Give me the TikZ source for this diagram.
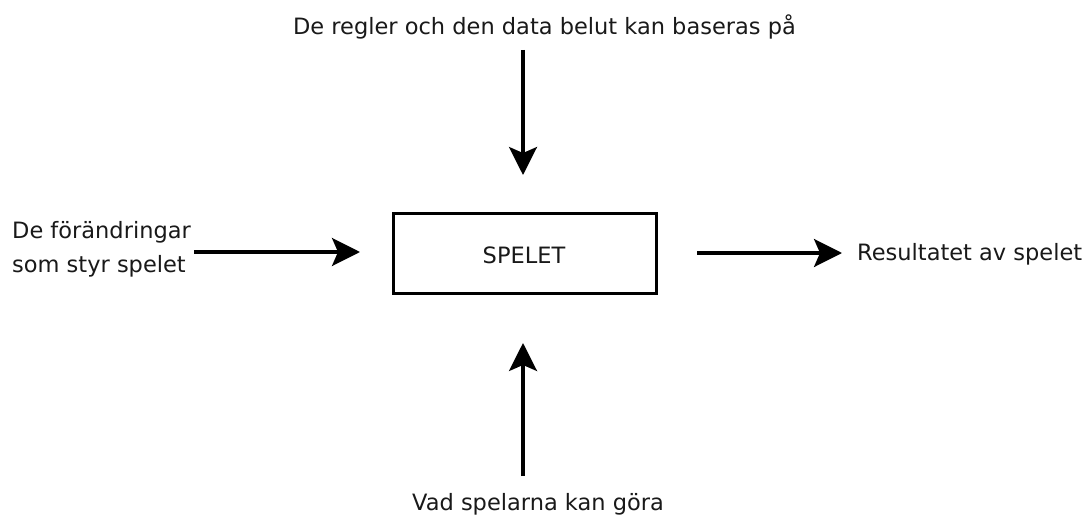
\documentclass[tikz,border=0pt]{standalone}
\usepackage{fontspec}
\setmainfont{DejaVu Sans}
\usetikzlibrary{arrows.meta}
\begin{document}
\begin{tikzpicture}[x=1pt,y=-1pt,
  lbl/.style={font=\fontsize{22.5}{34}\selectfont, text=black!90, inner sep=0pt},
  flow/.style={line width=3.2pt, -{Stealth[length=28pt,width=28pt,inset=6pt]}},
  gamebox/.style={draw, line width=3pt, minimum width=263pt, minimum height=80pt, inner sep=0pt}]
\useasboundingbox (0,0) rectangle (1086,516);
% central box
\node[gamebox] (game) at (525,253.5) {};
\node[lbl, anchor=base] (gtxt) at (524,263) {SPELET};
% labels
\node[lbl, anchor=base] (top) at (544.5,35) {De regler och den data belut kan baseras på};
\node[lbl, anchor=base] (bot) at (538,510) {Vad spelarna kan göra};
\node[lbl, anchor=base west, align=left] (left) at (12,272) {De förändringar\\som styr spelet};
\node[lbl, anchor=base west] (right) at (857,260) {Resultatet av spelet};
% arrow end points
\coordinate (tA) at (523,50);
\coordinate (tB) at (523,175);
\coordinate (bA) at (523,476);
\coordinate (bB) at (523,343);
\coordinate (lA) at (194,252);
\coordinate (lB) at (360,252);
\coordinate (rA) at (697,253);
\coordinate (rB) at (842,253);
\draw[flow] (tA) -- (tB);
\draw[flow] (bA) -- (bB);
\draw[flow] (lA) -- (lB);
\draw[flow] (rA) -- (rB);
\end{tikzpicture}
\end{document}
